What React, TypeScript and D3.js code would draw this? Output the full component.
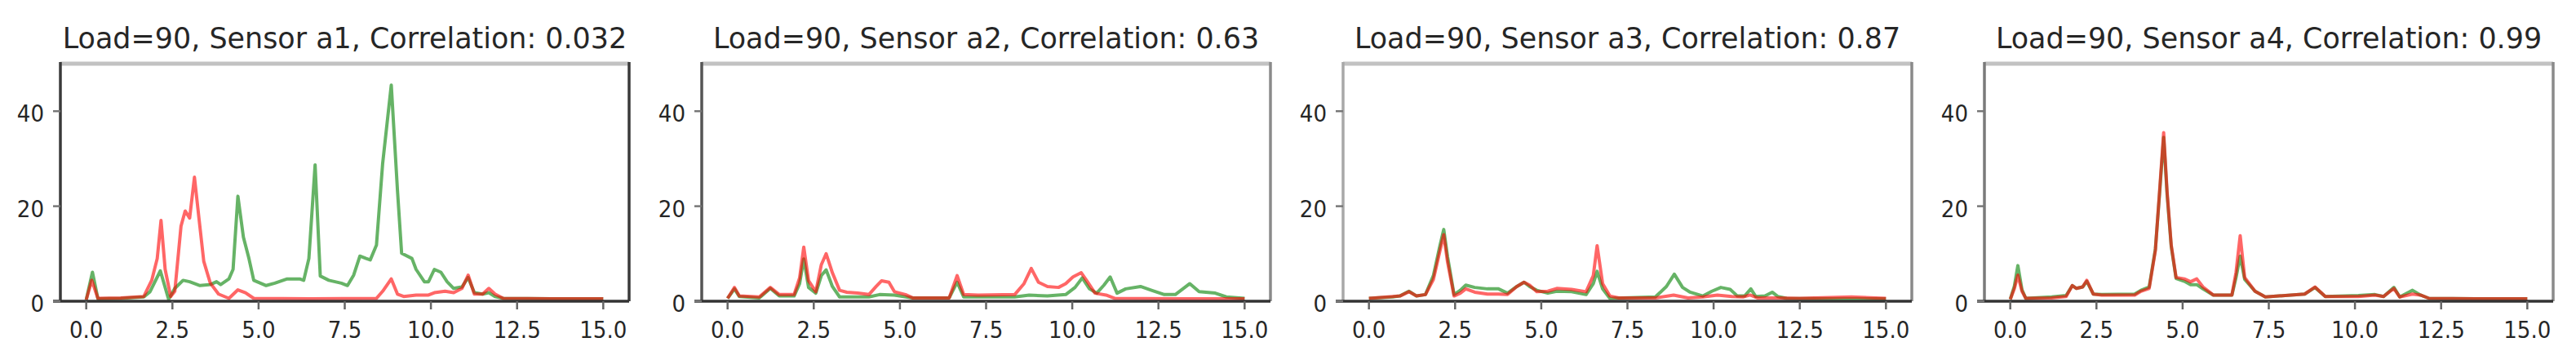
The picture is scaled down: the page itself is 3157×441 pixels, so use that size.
import React from "react";
import * as d3 from "d3";

type Pt = [number, number];

const TITLES = [
  "Load=90, Sensor a1, Correlation: 0.032",
  "Load=90, Sensor a2, Correlation: 0.63",
  "Load=90, Sensor a3, Correlation: 0.87",
  "Load=90, Sensor a4, Correlation: 0.99",
];
const X_TICKS = [0, 2.5, 5, 7.5, 10, 12.5, 15];
const X_TICK_LABELS = ["0.0", "2.5", "5.0", "7.5", "10.0", "12.5", "15.0"];
const Y_TICKS = [0, 20, 40];
const X_DOMAIN: [number, number] = [-0.75, 15.75];
const Y_DOMAIN: [number, number] = [0, 50];

const a1Green: Pt[] = [
  [0, 0.3], [0.18, 6.1], [0.34, 0.5], [1.0, 0.6], [1.67, 0.9], [1.85, 2], [2.15, 6.4], [2.39, 0.4],
  [2.57, 2.7], [2.81, 4.4], [3.0, 4.1], [3.3, 3.3], [3.6, 3.5], [3.78, 4.1], [3.9, 3.5], [4.14, 4.7],
  [4.26, 6.7], [4.4, 22.1], [4.56, 13.5], [4.72, 9], [4.86, 4.4], [5.22, 3.3], [5.47, 3.8], [5.83, 4.7],
  [6.19, 4.7], [6.31, 4.4], [6.46, 9], [6.64, 28.7], [6.79, 5.3], [7.04, 4.4], [7.4, 3.8], [7.58, 3.3],
  [7.76, 5.5], [7.94, 9.5], [8.12, 9], [8.24, 8.7], [8.42, 11.8], [8.6, 29], [8.85, 45.5], [9.03, 23.3],
  [9.15, 10.1], [9.45, 9], [9.57, 6.7], [9.81, 4.1], [9.93, 4.1], [10.1, 6.7], [10.29, 6.1], [10.47, 4.1],
  [10.66, 2.7], [10.9, 3], [11.08, 5.0], [11.26, 1.8], [11.5, 1.5], [11.68, 1.8], [11.86, 1.0], [12.1, 0.6],
  [13.5, 0.5], [15, 0.5],
];
const a1Red: Pt[] = [
  [0, 0.3], [0.16, 4.4], [0.34, 0.6], [1.0, 0.7], [1.67, 1.0], [1.9, 4.4], [2.06, 9], [2.17, 17],
  [2.29, 6.7], [2.45, 1.0], [2.57, 2.1], [2.75, 15.8], [2.87, 19], [3.0, 17.5], [3.14, 26.1], [3.27, 17.5],
  [3.41, 8.4], [3.6, 3.8], [3.84, 1.5], [4.14, 0.6], [4.4, 2.4], [4.62, 1.8], [4.86, 0.6], [6.5, 0.5],
  [8.42, 0.6], [8.6, 2.1], [8.85, 4.7], [9.03, 1.5], [9.21, 1.0], [9.57, 1.3], [9.93, 1.3], [10.1, 1.8],
  [10.41, 2.1], [10.66, 1.8], [10.9, 2.7], [11.08, 5.5], [11.26, 1.5], [11.5, 1.5], [11.68, 2.7],
  [11.86, 1.5], [12.1, 0.6], [13.5, 0.5], [15, 0.5],
];

const a2Green: Pt[] = [
  [0, 0.6], [0.2, 2.6], [0.34, 1.0], [0.92, 0.7], [1.24, 2.7], [1.5, 1.1], [1.93, 1.1], [2.09, 3.7],
  [2.21, 8.9], [2.35, 2.9], [2.56, 1.7], [2.72, 5.4], [2.86, 6.6], [3.04, 3.1], [3.25, 0.9], [4.1, 0.9],
  [4.41, 1.4], [4.84, 1.3], [5.37, 0.7], [6.43, 0.7], [6.66, 4], [6.85, 0.9], [8.33, 0.9], [8.75, 1.3],
  [9.28, 1.1], [9.81, 1.4], [10.08, 2.9], [10.29, 4.9], [10.5, 2.6], [10.71, 1.7], [10.92, 3.4],
  [11.1, 5.1], [11.3, 1.7], [11.55, 2.6], [11.98, 3.1], [12.3, 2.3], [12.67, 1.4], [12.99, 1.4],
  [13.41, 3.7], [13.68, 2.0], [14.15, 1.7], [14.47, 0.9], [15, 0.6],
];
const a2Red: Pt[] = [
  [0, 0.6], [0.2, 2.9], [0.34, 1.1], [0.92, 0.9], [1.24, 2.9], [1.5, 1.4], [1.93, 1.4], [2.09, 4.9],
  [2.21, 11.4], [2.35, 4.3], [2.56, 2.0], [2.72, 7.7], [2.86, 10], [3.04, 6], [3.25, 2.3], [3.46, 1.9],
  [3.78, 1.7], [4.1, 1.4], [4.31, 3.1], [4.47, 4.3], [4.68, 4.0], [4.84, 2.0], [5.16, 1.4], [5.37, 0.7],
  [6.43, 0.7], [6.66, 5.4], [6.85, 1.4], [7.27, 1.3], [8.33, 1.4], [8.6, 3.7], [8.81, 6.9], [9.02, 4.0],
  [9.28, 3.1], [9.6, 2.9], [9.81, 3.7], [10.02, 5.1], [10.26, 6.0], [10.45, 4.0], [10.66, 1.7],
  [10.98, 1.3], [11.24, 0.6], [13, 0.5], [15, 0.5],
];

const a3Green: Pt[] = [
  [0, 0.6], [0.69, 0.9], [0.9, 1.1], [1.16, 2.1], [1.38, 1.1], [1.64, 1.4], [1.87, 5.4], [2.06, 11.7],
  [2.17, 15.1], [2.28, 9.4], [2.47, 1.4], [2.65, 2.3], [2.81, 3.4], [3.07, 2.9], [3.44, 2.6], [3.76, 2.6],
  [4.02, 1.7], [4.29, 3.1], [4.5, 4.0], [4.66, 3.1], [4.87, 2.3], [5.19, 1.7], [5.45, 2.1], [5.88, 2.0],
  [6.3, 1.4], [6.51, 3.7], [6.62, 6.3], [6.78, 2.6], [6.99, 0.6], [8.31, 0.9], [8.63, 3.1], [8.86, 5.7],
  [9.1, 2.9], [9.32, 1.9], [9.69, 1.1], [9.95, 2.1], [10.21, 2.9], [10.48, 2.5], [10.69, 1.1],
  [10.9, 1.1], [11.08, 2.6], [11.22, 1.0], [11.49, 1.1], [11.7, 1.9], [11.86, 1.0], [12.12, 0.6],
  [13.5, 0.5], [15, 0.5],
];
const a3Red: Pt[] = [
  [0, 0.6], [0.69, 1.0], [0.9, 1.1], [1.16, 2.0], [1.38, 1.1], [1.64, 1.4], [1.87, 4.6], [2.06, 10.6],
  [2.17, 14], [2.28, 8.3], [2.47, 1.1], [2.65, 1.7], [2.81, 2.6], [3.07, 1.9], [3.44, 1.5], [3.76, 1.5],
  [4.02, 1.4], [4.29, 3.1], [4.5, 4.0], [4.66, 3.4], [4.87, 2.0], [5.19, 2.1], [5.45, 2.7], [5.88, 2.5],
  [6.3, 2.0], [6.51, 5.4], [6.62, 11.7], [6.78, 3.7], [6.99, 1.1], [7.25, 0.7], [8.31, 0.7], [8.84, 1.3],
  [9.26, 0.7], [9.69, 0.9], [10.11, 1.3], [10.53, 1.0], [10.85, 0.9], [11.06, 1.3], [11.27, 0.7],
  [11.8, 0.7], [12.5, 0.6], [14.0, 0.9], [15, 0.6],
];

const a4Green: Pt[] = [
  [0, 0.4], [0.12, 3.2], [0.22, 7.5], [0.34, 2.4], [0.45, 0.6], [1.2, 0.9], [1.62, 1.2], [1.8, 3.3],
  [1.92, 2.7], [2.1, 3.0], [2.22, 4.2], [2.41, 1.5], [2.65, 1.4], [3.61, 1.5], [3.79, 2.3], [4.03, 3.0],
  [4.21, 11], [4.33, 22.5], [4.45, 34.5], [4.55, 22.5], [4.67, 11.5], [4.81, 4.8], [5.05, 4.2],
  [5.23, 3.5], [5.41, 3.5], [5.59, 2.6], [5.89, 1.3], [6.43, 1.3], [6.55, 5.0], [6.67, 9.5], [6.8, 4.6],
  [7.1, 2.1], [7.4, 0.9], [8.54, 1.5], [8.84, 2.9], [9.14, 1.0], [10.1, 1.2], [10.58, 1.4], [10.83, 1.0],
  [11.13, 2.9], [11.3, 0.9], [11.67, 2.3], [11.9, 1.3], [12.15, 0.6], [13.5, 0.5], [15, 0.5],
];
const a4Red: Pt[] = [
  [0, 0.4], [0.12, 2.7], [0.22, 5.5], [0.34, 2.1], [0.45, 0.6], [1.2, 0.7], [1.62, 1.0], [1.8, 3.3],
  [1.92, 2.7], [2.1, 3.0], [2.22, 4.4], [2.41, 1.5], [2.65, 1.3], [3.61, 1.3], [3.79, 2.1], [4.03, 2.7],
  [4.21, 10.7], [4.33, 23], [4.45, 35.5], [4.55, 23], [4.67, 11.8], [4.81, 5.0], [5.05, 4.7],
  [5.23, 4.1], [5.41, 4.7], [5.59, 3.0], [5.89, 1.3], [6.43, 1.3], [6.55, 6.1], [6.67, 13.8], [6.8, 5.0],
  [7.1, 2.1], [7.4, 0.9], [8.54, 1.5], [8.84, 3.0], [9.14, 1.0], [10.1, 1.0], [10.58, 1.3], [10.83, 1.0],
  [11.13, 2.7], [11.3, 0.9], [11.67, 1.5], [11.9, 1.3], [12.15, 0.6], [13.5, 0.5], [15, 0.5],
];

const GREEN_SERIES = [a1Green, a2Green, a3Green, a4Green];
const RED_SERIES = [a1Red, a2Red, a3Red, a4Red];

// layout / style
const W = 3157;
const H = 441;
const PANEL_LEFT0 = 74;
const PANEL_STEP = 786;
const PANEL_W = 697;
const PLOT_TOP = 78;
const PLOT_BOTTOM = 369;
const SIDE_SPINE = ["#3a3a3a", "#555555", "#a8a8a8", "#7a7a7a"];
const RIGHT_SPINE = ["#3a3a3a", "#8a8a8a", "#8a8a8a", "#8a8a8a"];
const FONT = "'DejaVu Sans', sans-serif";

function Panel({ i }: { i: number }) {
  const left = PANEL_LEFT0 + i * PANEL_STEP;
  const right = left + PANEL_W;
  const x = d3.scaleLinear().domain(X_DOMAIN).range([left, right]);
  const y = d3.scaleLinear().domain(Y_DOMAIN).range([PLOT_BOTTOM, PLOT_TOP]);
  const line = d3
    .line<Pt>()
    .x((d) => x(d[0]))
    .y((d) => y(d[1]));
  const cx = (left + right) / 2;
  return (
    <g>
      <g transform={`translate(${cx},59) scale(0.97,1)`}>
        <text x={0} y={0} textAnchor="middle" fontFamily={FONT} fontSize={36} fill="#262626">
          {TITLES[i]}
        </text>
      </g>
      {/* spines */}
      <line x1={left} x2={right} y1={PLOT_TOP} y2={PLOT_TOP} stroke="#c2c2c2" strokeWidth={5} />
      <line x1={left} x2={left} y1={PLOT_TOP - 2} y2={PLOT_BOTTOM} stroke={SIDE_SPINE[i]} strokeWidth={3.5} />
      <line x1={right} x2={right} y1={PLOT_TOP - 2} y2={PLOT_BOTTOM} stroke={RIGHT_SPINE[i]} strokeWidth={3.5} />
      {/* lines */}
      <path d={line(GREEN_SERIES[i]) || ""} fill="none" stroke="#008000" strokeOpacity={0.6} strokeWidth={4} strokeLinejoin="round" />
      <path d={line(RED_SERIES[i]) || ""} fill="none" stroke="#ff0000" strokeOpacity={0.6} strokeWidth={4} strokeLinejoin="round" />
      <line x1={left - 9} x2={right} y1={PLOT_BOTTOM} y2={PLOT_BOTTOM} stroke="#333333" strokeWidth={3.5} />
      {/* y ticks */}
      {Y_TICKS.map((t) => (
        <g key={"y" + t}>
          <line x1={left - 9} x2={left} y1={y(t)} y2={y(t)} stroke="#777" strokeWidth={2.5} />
          <g transform={`translate(${left - 20},${y(t) + 13}) scale(0.9,1)`}>
            <text x={0} y={0} textAnchor="end" fontFamily={FONT} fontSize={29} fill="#262626">
              {t}
            </text>
          </g>
        </g>
      ))}
      {/* x ticks */}
      {X_TICKS.map((t, k) => (
        <g key={"x" + t}>
          <line x1={x(t)} x2={x(t)} y1={PLOT_BOTTOM} y2={PLOT_BOTTOM + 10} stroke="#666" strokeWidth={2.5} />
          <g transform={`translate(${x(t)},414) scale(0.9,1)`}>
            <text x={0} y={0} textAnchor="middle" fontFamily={FONT} fontSize={29} fill="#262626">
              {X_TICK_LABELS[k]}
            </text>
          </g>
        </g>
      ))}
    </g>
  );
}

export default function App() {
  return (
    <svg
      width={W}
      height={H}
      style={{ position: "absolute", left: 0, top: 0, background: "#fff" }}
    >
      <rect x={0} y={0} width={W} height={H} fill="#fff" />
      {TITLES.map((_, i) => (
        <Panel key={i} i={i} />
      ))}
    </svg>
  );
}
